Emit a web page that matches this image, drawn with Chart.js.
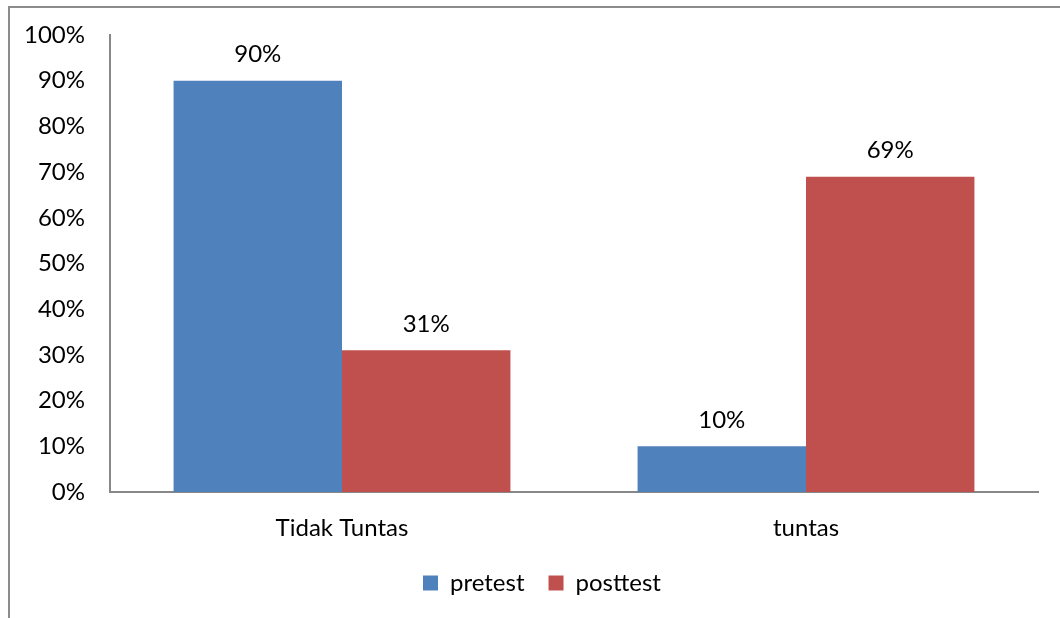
<!DOCTYPE html>
<html>
<head>
<meta charset="utf-8">
<title>pretest / posttest</title>
<script src="https://cdn.jsdelivr.net/npm/chart.js@4.4.1/dist/chart.umd.min.js"></script>
<style>
  html, body { margin: 0; padding: 0; background: #fff; }
  #wrap { position: relative; width: 1060px; height: 618px; }
</style>
</head>
<body>
<div id="wrap"><canvas id="hasilChart" width="1060" height="618"></canvas></div>
<script>
// ---- data ----
const categories = ['Tidak Tuntas', 'tuntas'];
const pretest = [90, 10];
const posttest = [31, 69];
const yTicks = [0, 10, 20, 30, 40, 50, 60, 70, 80, 90, 100];

const FONT = 'Lato, "Open Sans", sans-serif';
const FS = 24;

// frame lines along the top and left edge
const framePlugin = {
  id: 'frame',
  beforeDraw(chart) {
    const c = chart.ctx;
    c.save();
    c.strokeStyle = '#8c8c8c';
    c.lineWidth = 2;
    c.beginPath();
    c.moveTo(9, chart.height);
    c.lineTo(9, 7);
    c.lineTo(chart.width, 7);
    c.stroke();
    c.restore();
  }
};

// nudge the legend a little to the right of the canvas centre
const legendShift = {
  id: 'legendShift',
  afterLayout(chart) {
    chart.legend.left += 23;
    chart.legend.right += 23;
  }
};

// value labels above each bar
const valueLabels = {
  id: 'valueLabels',
  afterDatasetsDraw(chart) {
    const c = chart.ctx;
    c.save();
    c.font = FS + 'px ' + FONT;
    c.fillStyle = '#000';
    c.textAlign = 'center';
    c.textBaseline = 'middle';
    chart.data.datasets.forEach((ds, i) => {
      chart.getDatasetMeta(i).data.forEach((bar, j) => {
        c.fillText(ds.data[j] + '%', bar.x, bar.y - 26);
      });
    });
    c.restore();
  }
};

new Chart(document.getElementById('hasilChart'), {
  type: 'bar',
  data: {
    labels: categories,
    datasets: [
      { label: 'pretest', data: pretest, backgroundColor: '#4F81BD' },
      { label: 'posttest', data: posttest, backgroundColor: '#C0504D' }
    ]
  },
  options: {
    responsive: false,
    animation: false,
    layout: { padding: { top: 35, right: 22, left: 0, bottom: 13 } },
    datasets: { bar: { categoryPercentage: 0.726, barPercentage: 1 } },
    scales: {
      x: {
        afterFit(scale) { scale.height = 55; },
        grid: { display: false, drawTicks: false },
        border: { color: '#888', width: 2 },
        ticks: { color: '#000', font: { size: FS, family: FONT }, padding: 22 }
      },
      y: {
        min: 0,
        max: 100,
        afterFit(scale) {
          scale.width = 110;
          scale.paddingTop = 0;
          scale.paddingBottom = 0;
        },
        afterBuildTicks(scale) { scale.ticks = yTicks.map(v => ({ value: v })); },
        grid: { display: false, drawTicks: false },
        border: { color: '#888', width: 2 },
        ticks: {
          color: '#000',
          font: { size: FS, family: FONT },
          padding: 25,
          callback: v => v + '%'
        }
      }
    },
    plugins: {
      legend: {
        position: 'bottom',
        labels: {
          color: '#000',
          font: { size: FS, family: FONT },
          boxWidth: 15,
          boxHeight: 15,
          padding: 24
        }
      },
      tooltip: { enabled: false }
    }
  },
  plugins: [framePlugin, legendShift, valueLabels]
});
</script>
</body>
</html>
